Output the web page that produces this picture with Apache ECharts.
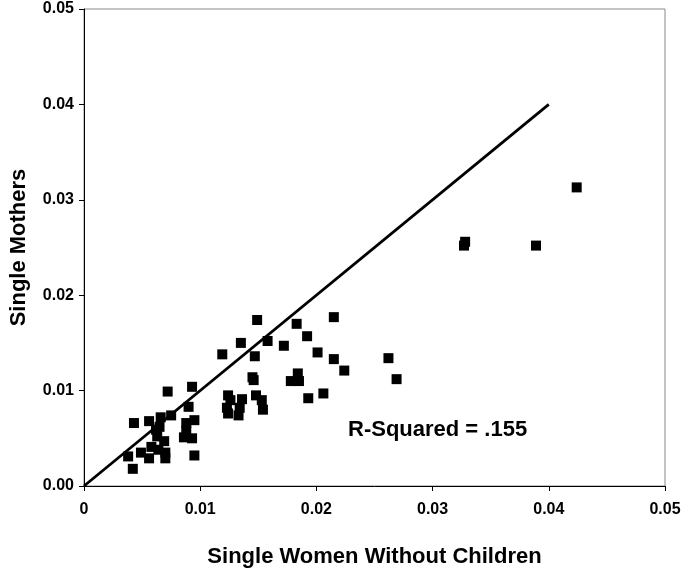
<!DOCTYPE html>
<html>
<head>
<meta charset="utf-8">
<script src="https://cdn.jsdelivr.net/npm/echarts@6/dist/echarts.min.js"></script>
<style>
  html, body { margin: 0; padding: 0; background: #fff; }
  #chart { width: 685px; height: 577px; }
</style>
</head>
<body>
<div id="chart"></div>
<script>
// single women without children (x) vs single mothers (y)
var womenNoKids = [
  0.0038, 0.0042, 0.0043, 0.0049, 0.0056, 0.0056, 0.0058, 0.0062, 0.0064, 0.0066,
  0.0069, 0.0070, 0.0070, 0.0063, 0.0072, 0.0075, 0.0086, 0.0088, 0.0090, 0.0093,
  0.0093, 0.0095, 0.0095, 0.0088, 0.0065,
  0.0119, 0.0135, 0.0147, 0.0149, 0.0158, 0.0145, 0.0146, 0.0124, 0.0126, 0.0123,
  0.0124, 0.0134, 0.0133, 0.0136, 0.0148, 0.0153, 0.0154, 0.0172, 0.0183, 0.0192,
  0.0201, 0.0178, 0.0185, 0.0184, 0.0193, 0.0206, 0.0215, 0.0215, 0.0224, 0.0262,
  0.0269, 0.0327, 0.0328, 0.0389, 0.0424
];
var singleMothers = [
  0.0031, 0.0018, 0.0066, 0.0035, 0.0068, 0.0029, 0.0041, 0.0059, 0.0038, 0.0072,
  0.0047, 0.0029, 0.0035, 0.0052, 0.0099, 0.0074, 0.0051, 0.0066, 0.0083, 0.0050,
  0.0104, 0.0069, 0.0032, 0.0058, 0.0062,
  0.0138, 0.0150, 0.0136, 0.0174, 0.0152, 0.0114, 0.0111, 0.0095, 0.0090, 0.0082,
  0.0076, 0.0082, 0.0074, 0.0091, 0.0095, 0.0090, 0.0080, 0.0147, 0.0170, 0.0157,
  0.0140, 0.0110, 0.0110, 0.0118, 0.0092, 0.0097, 0.0177, 0.0133, 0.0121, 0.0134,
  0.0112, 0.0252, 0.0256, 0.0252, 0.0313
];
var refLineX = [0, 0.04];
var refLineY = [0, 0.04];
var rSquaredText = 'R-Squared = .155';

var points = womenNoKids.map(function (x, i) { return [x, singleMothers[i]]; });
var refLine = refLineX.map(function (x, i) { return [x, refLineY[i]]; });

var myChart = echarts.init(document.getElementById('chart'));
var font = 'Liberation Sans, Arial, sans-serif';

var option = {
  backgroundColor: '#fff',
  animation: false,
  grid: {
    left: 82, right: 20, top: 9, bottom: 91,
    show: true, borderColor: '#888', borderWidth: 1, backgroundColor: '#fff'
  },
  xAxis: {
    type: 'value', min: 0, max: 0.05, interval: 0.01,
    name: 'Single Women Without Children',
    nameLocation: 'middle', nameGap: 60,
    nameTextStyle: { fontFamily: font, fontWeight: 'bold', fontSize: 22, color: '#000' },
    axisLine: { show: true, lineStyle: { color: '#000', width: 1 } },
    axisTick: { show: true, length: 5, lineStyle: { color: '#000' } },
    axisLabel: {
      fontFamily: font, fontWeight: 'bold', fontSize: 16, color: '#000', margin: 16,
      formatter: function (v) { return v === 0 ? '0' : v.toFixed(2); }
    },
    splitLine: { show: false }
  },
  yAxis: {
    type: 'value', min: 0, max: 0.05, interval: 0.01,
    name: 'Single Mothers',
    nameLocation: 'middle', nameGap: 54,
    nameTextStyle: { fontFamily: font, fontWeight: 'bold', fontSize: 22, color: '#000' },
    axisLine: { show: true, lineStyle: { color: '#000', width: 1 } },
    axisTick: { show: true, length: 5, lineStyle: { color: '#000' } },
    axisLabel: {
      fontFamily: font, fontWeight: 'bold', fontSize: 16, color: '#000', margin: 10,
      formatter: function (v) { return v.toFixed(2); }
    },
    splitLine: { show: false }
  },
  series: [
    {
      type: 'line',
      data: refLine,
      symbol: 'none',
      lineStyle: { color: '#000', width: 2.8 },
      z: 2
    },
    {
      type: 'scatter',
      data: points,
      symbol: 'rect',
      symbolSize: 10,
      itemStyle: { color: '#000', opacity: 1 },
      z: 3
    }
  ],
  graphic: [
    {
      type: 'text',
      left: 348,
      top: 419,
      style: {
        text: rSquaredText,
        fontFamily: font, fontWeight: 'bold', fontSize: 22, fill: '#000'
      }
    }
  ]
};
myChart.setOption(option);
</script>
</body>
</html>
